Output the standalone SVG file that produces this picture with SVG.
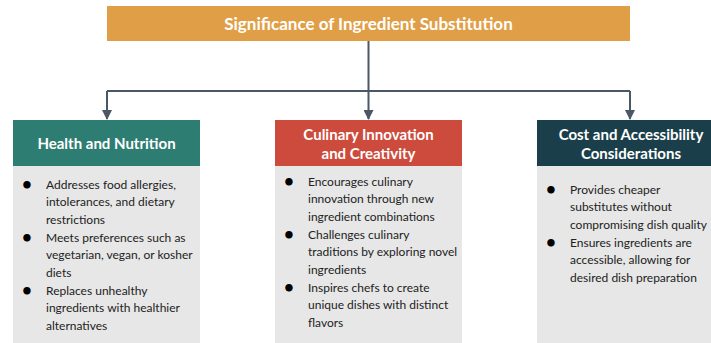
<svg xmlns="http://www.w3.org/2000/svg" width="711" height="343" viewBox="0 0 711 343">
<defs>
<marker id="arr" viewBox="0 0 10 10" refX="9" refY="5" markerWidth="5" markerHeight="5" orient="auto">
<path d="M0,0 L10,5 L0,10 z" fill="#4a5766"/>
</marker>
<style>
.hd{font-family:Lato,"Open Sans",sans-serif;font-weight:bold;fill:#fff;text-anchor:middle}
.bd{font-family:Lato,"Open Sans",sans-serif;font-size:12px;fill:#222}
.bl{font-size:17px;font-weight:bold;fill:#000}
.body{fill:#e7e7e7}
.ln{stroke:#4a5766;stroke-width:2;fill:none}
</style>
</defs>
<rect width="711" height="343" fill="#fff"/>
<g id="root">
<rect x="107" y="6" width="523" height="35" fill="#e09f47"/>
<text class="hd" x="368.5" y="29.5" font-size="17">Significance of Ingredient Substitution</text>
</g>
<g id="connectors">
<path class="ln" d="M368.5,41 V91"/>
<path class="ln" d="M107,91 H630"/>
<path class="ln" d="M107,91 V119" marker-end="url(#arr)"/>
<path class="ln" d="M368.5,91 V119" marker-end="url(#arr)"/>
<path class="ln" d="M630,91 V119" marker-end="url(#arr)"/>
</g>
<g id="health">
<rect x="13" y="120" width="187" height="46" fill="#2e7d72"/>
<rect class="body" x="13" y="166" width="187" height="177"/>
<text class="hd" x="106.5" y="149" font-size="15">Health and Nutrition</text>
<text class="bd"><tspan class="bl" x="22" y="190">•</tspan><tspan x="46" y="188.5">Addresses food allergies,</tspan><tspan x="46" y="206">intolerances, and dietary</tspan><tspan x="46" y="223.5">restrictions</tspan><tspan class="bl" x="22" y="243">•</tspan><tspan x="46" y="241.5">Meets preferences such as</tspan><tspan x="46" y="259">vegetarian, vegan, or kosher</tspan><tspan x="46" y="276.5">diets</tspan><tspan class="bl" x="22" y="296">•</tspan><tspan x="46" y="294.5">Replaces unhealthy</tspan><tspan x="46" y="312">ingredients with healthier</tspan><tspan x="46" y="329.5">alternatives</tspan></text>
</g>
<g id="culinary">
<rect x="275" y="120" width="187" height="46" fill="#cc4b3c"/>
<rect class="body" x="275" y="166" width="187" height="177"/>
<text class="hd" font-size="15"><tspan x="368.5" y="140">Culinary Innovation</tspan><tspan x="368.5" y="159">and Creativity</tspan></text>
<text class="bd"><tspan class="bl" x="284" y="187">•</tspan><tspan x="308" y="185.5">Encourages culinary</tspan><tspan x="308" y="203">innovation through new</tspan><tspan x="308" y="220.5">ingredient combinations</tspan><tspan class="bl" x="284" y="240">•</tspan><tspan x="308" y="238.5">Challenges culinary</tspan><tspan x="308" y="256">traditions by exploring novel</tspan><tspan x="308" y="273.5">ingredients</tspan><tspan class="bl" x="284" y="293">•</tspan><tspan x="308" y="291.5">Inspires chefs to create</tspan><tspan x="308" y="309">unique dishes with distinct</tspan><tspan x="308" y="326.5">flavors</tspan></text>
</g>
<g id="cost">
<rect x="537" y="120" width="187" height="46" fill="#1b3f4a"/>
<rect class="body" x="537" y="166" width="187" height="177"/>
<text class="hd" font-size="15"><tspan x="631" y="140">Cost and Accessibility</tspan><tspan x="631" y="159">Considerations</tspan></text>
<text class="bd"><tspan class="bl" x="546" y="195">•</tspan><tspan x="570" y="193.5">Provides cheaper</tspan><tspan x="570" y="211">substitutes without</tspan><tspan x="570" y="228.5">compromising dish quality</tspan><tspan class="bl" x="546" y="248">•</tspan><tspan x="570" y="246.5">Ensures ingredients are</tspan><tspan x="570" y="264">accessible, allowing for</tspan><tspan x="570" y="281.5">desired dish preparation</tspan></text>
</g>
</svg>
